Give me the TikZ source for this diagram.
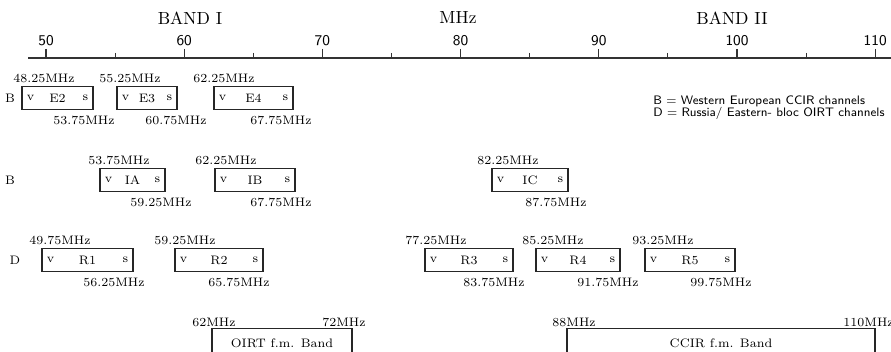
\documentclass[tikz,border=0pt]{standalone}
\usepackage{fontspec}
\usepackage{tikz}
\tikzset{
  channel/.style={draw=black!85, line width=0.8pt, minimum height=0.46cm, inner sep=0pt,
    font=\fontsize{7}{8}\selectfont,
    label={[font=\fontsize{7}{8}\selectfont, anchor=west, xshift=3pt, inner sep=0pt]west:v},
    label={[font=\fontsize{7}{8}\selectfont, anchor=east, xshift=-3pt, inner sep=0pt]east:s}},
  fmband/.style={draw=black!85, line width=0.8pt, minimum height=0.6cm, inner sep=0pt,
    anchor=north, font=\fontsize{7}{8}\selectfont},
  freq/.style={font=\fontsize{7}{8}\selectfont, inner sep=0pt, anchor=west},
  rowlabel/.style={font=\fontsize{7}{8}\selectfont, inner sep=0pt},
  bandtitle/.style={font=\fontsize{10}{12}\selectfont, inner sep=0pt},
  scalenum/.style={font=\sffamily\fontsize{8.5}{10}\selectfont, inner sep=0pt},
  keytext/.style={font=\sffamily\fontsize{7}{8}\selectfont, inner sep=0pt, anchor=west},
  axis/.style={line width=0.6pt, black!80},
  tickmark/.style={line width=0.6pt, black!80}
}

\begin{document}
\begin{tikzpicture}[x=0.02cm, y=-0.02cm]
  \clip (0,0) rectangle (891,351);

  \node[bandtitle] (band1) at (190,18) {BAND I};
  \node[bandtitle] (mhz) at (458,18) {MHz};
  \node[bandtitle] (band2) at (732,18) {BAND II};

  \draw[axis] (28,58) -- (891,58);
  \foreach \f in {50,60,...,110} {
    \draw[tickmark] ({46+(\f-50)*13.82},49) -- ++(0,9);
    \node[scalenum] (num\f) at ({46+(\f-50)*13.82},41) {\f};
  }
  \foreach \f in {55,65,...,105}
    \draw[tickmark] ({46+(\f-50)*13.82},53) -- ++(0,5);

  \node[rowlabel] (rowE) at (10,98) {B};
  \node[rowlabel] (rowI) at (10,180) {B};
  \node[rowlabel] (rowR) at (15,260) {D};

  \foreach \ch/\cx/\cy/\w/\lo/\lox/\hi/\hix in {
      E2/57.5/98/1.42/48.25/13/53.75/53,
      E3/147/98/1.20/55.25/99/60.75/145,
      E4/253.5/98/1.58/62.25/193/67.75/250,
      IA/132.5/180/1.30/53.75/88/59.25/130,
      IB/255/180/1.60/62.25/195/67.75/250,
      IC/530/180/1.52/82.25/477/87.75/525,
      R1/87.5/260/1.82/49.75/29/56.25/83,
      R2/219/260/1.76/59.25/154/65.75/208,
      R3/469/260/1.76/77.25/405/83.75/463,
      R4/578/260/1.68/85.25/522/91.75/577,
      R5/690/260/1.80/93.25/632/99.75/690} {
    \node[channel, minimum width=\w cm] (\ch) at (\cx,\cy) {\ch};
    \node[freq] (\ch-lo) at (\lox,\cy-20) {\lo MHz};
    \node[freq] (\ch-hi) at (\hix,\cy+22) {\hi MHz};
  }

  \node[keytext] (keyB) at (653,101) {B = Western European CCIR channels};
  \node[keytext] (keyD) at (653,113) {D = Russia/ Eastern- bloc OIRT channels};

  \node[freq] (oirt-lo) at (192,322) {62MHz};
  \node[freq] (oirt-hi) at (322,322) {72MHz};
  \node[freq] (ccir-lo) at (552,322) {88MHz};
  \node[freq] (ccir-hi) at (843,322) {110MHz};
  \node[fmband, minimum width=2.80cm] (oirt) at (282,328) {OIRT f.m. Band};
  \node[fmband, minimum width=6.16cm] (ccir) at (721,328) {CCIR f.m. Band};
\end{tikzpicture}
\end{document}
